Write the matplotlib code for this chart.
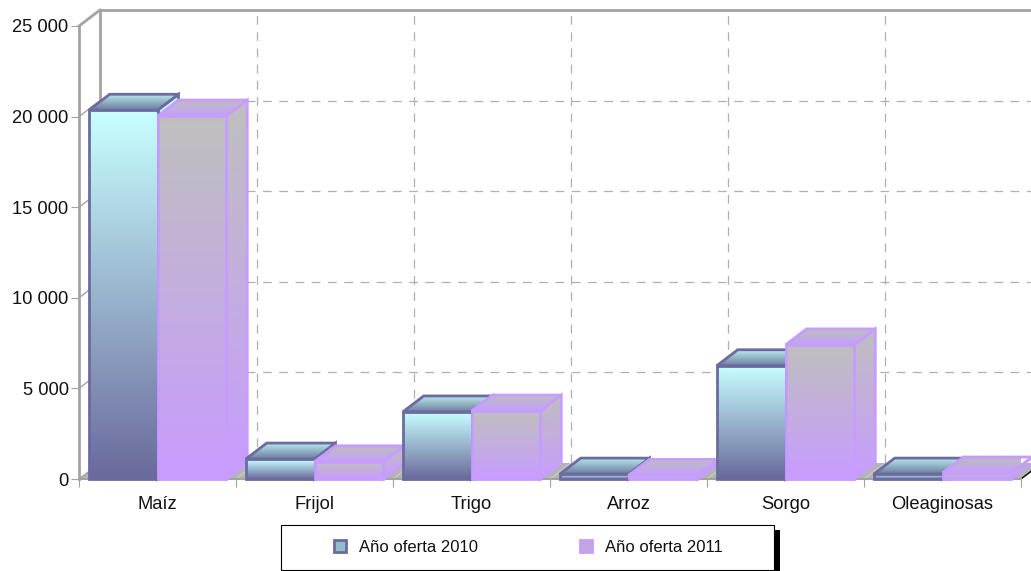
import matplotlib
matplotlib.use("Agg")
import matplotlib.pyplot as plt
import numpy as np
from matplotlib.colors import to_rgb
from matplotlib.patches import Polygon, Patch, Rectangle

plt.rcParams["font.family"] = ["Liberation Sans", "DejaVu Sans"]

# Datos
categorias = ["Maíz", "Frijol", "Trigo", "Arroz", "Sorgo", "Oleaginosas"]
oferta_2010 = [20350, 1100, 3700, 270, 6250, 270]
oferta_2011 = [20030, 950, 3750, 200, 7400, 330]
y_ticks = [0, 5000, 10000, 15000, 20000, 25000]
y_labels = ["0", "5 000", "10 000", "15 000", "20 000", "25 000"]
series = ["Año oferta 2010", "Año oferta 2011"]

# profundidad del efecto 3D en unidades de datos
dx = 21 / 157
dy = 883
bar_w = 0.438

gris = "#a3a3a3"
borde_1 = "#6b6b9f"
borde_2 = "#c79cff"

fig = plt.figure(figsize=(10.31, 5.71), dpi=100)
ax = fig.add_axes([79 / 1031, (571 - 479) / 571, 942 / 1031, 453 / 571])


def cara(verts, c_arriba, c_abajo, borde, z, lw=2):
    # cara de la barra con degradado vertical
    verts = np.array(verts)
    grad = np.linspace(to_rgb(c_arriba), to_rgb(c_abajo), 64).reshape(64, 1, 3)
    extent = (verts[:, 0].min(), verts[:, 0].max(), verts[:, 1].min(), verts[:, 1].max())
    im = ax.imshow(grad, extent=extent, aspect="auto", zorder=z, interpolation="bilinear", origin="upper")
    p = Polygon(verts, closed=True, facecolor="none", edgecolor=borde, lw=lw, zorder=z + 0.1,
                joinstyle="miter", clip_on=False)
    ax.add_patch(p)
    im.set_clip_path(p)


def barra(x, h, z, frente, tapa, lado, borde):
    x1 = x + bar_w
    cara([(x1, 0), (x1 + dx, dy), (x1 + dx, h + dy), (x1, h)], lado[0], lado[1], borde, z)
    cara([(x, h), (x + dx, h + dy), (x1 + dx, h + dy), (x1, h)], tapa[0], tapa[1], borde, z + 0.2)
    cara([(x, 0), (x, h), (x1, h), (x1, 0)], frente[0], frente[1], borde, z + 0.4)


# piso y paredes
ax.add_patch(Polygon([(0, 0), (6, 0), (6 + dx, dy), (dx, dy)], facecolor="#b4b4b4", edgecolor="none",
                     zorder=1, clip_on=False))
for k in range(1, 6):
    ax.plot([k + dx, k + dx], [dy, 25000 + dy], color="#b0b0b0", lw=0.9, ls=(0, (7, 6)), zorder=1, clip_on=False)
    ax.plot([k, k + dx], [0, dy], color="#cccccc", lw=0.8, zorder=1.5, clip_on=False)
for v in y_ticks[1:-1]:
    ax.plot([dx, 6 + dx], [v + dy, v + dy], color="#b0b0b0", lw=0.9, ls=(0, (7, 6)), zorder=1, clip_on=False)
for v in y_ticks:
    ax.plot([0, dx], [v, v + dy], color=gris, lw=1 if v < 25000 else 2, zorder=1.5, clip_on=False)
ax.plot([dx, dx], [0 + dy, 25000 + dy], color=gris, lw=2, zorder=1.5, clip_on=False)
ax.plot([dx, 6 + dx], [25000 + dy, 25000 + dy], color=gris, lw=2, zorder=1.5, clip_on=False)
ax.plot([6, 6 + dx], [0, dy], color="black", lw=1, zorder=1.5, clip_on=False)

# barras
for i in range(len(categorias)):
    x0 = i + 0.5 - bar_w
    z = 3 + i
    barra(x0, oferta_2010[i], z, ("#c8ffff", "#6a6a9c"), ("#b8e8ea", "#6c7ba0"), ("#c8ffff", "#6a6a9c"), borde_1)
    barra(x0 + bar_w, oferta_2011[i], z + 0.5, ("#bfbfbf", "#c89cff"), ("#bdbdbd", "#c59fff"),
          ("#bfbfbf", "#c89cff"), borde_2)

ax.set_xlim(0, 6)
ax.set_ylim(0, 25000)
ax.patch.set_visible(False)
for s in ["top", "right"]:
    ax.spines[s].set_visible(False)
ax.spines["left"].set_color(gris)
ax.spines["left"].set_linewidth(2)
ax.spines["bottom"].set_color(gris)
ax.spines["bottom"].set_linewidth(1.5)

ax.set_yticks(y_ticks)
ax.set_yticklabels(y_labels, fontsize=13.2, color="#111111")
ax.tick_params(axis="y", length=6, width=0.8, color=gris, pad=1.5)
ax.set_xticks(range(7))
ax.set_xticklabels([])
ax.tick_params(axis="x", which="major", length=6, width=0.8, color=gris)
ax.set_xticks(np.arange(6) + 0.5, minor=True)
ax.set_xticklabels(categorias, minor=True, fontsize=13.2, color="#111111")
ax.tick_params(axis="x", which="minor", length=0, pad=12)

# leyenda con sombra negra
fig.add_artist(Rectangle((774 / 1031, 0), 5.5 / 1031, 41 / 571, transform=fig.transFigure,
                         facecolor="black", edgecolor="none"))
fig.add_artist(Rectangle((281 / 1031, 1 / 571), 493 / 1031, 45 / 571, transform=fig.transFigure,
                         facecolor="white", edgecolor="black", lw=0.8))
handles = [Patch(facecolor="#93bcc8", edgecolor=borde_1, lw=2), Patch(facecolor="#bda9dc", edgecolor=borde_2, lw=2)]
leg = fig.legend(handles, series, ncol=2, loc="center", bbox_to_anchor=(528.5 / 1031, 24 / 571),
                 fontsize=12, frameon=False, handlelength=0.72, handleheight=0.7,
                 handletextpad=0.78, columnspacing=6.1, labelcolor="#111111")

fig.savefig("out.png", dpi=100)
